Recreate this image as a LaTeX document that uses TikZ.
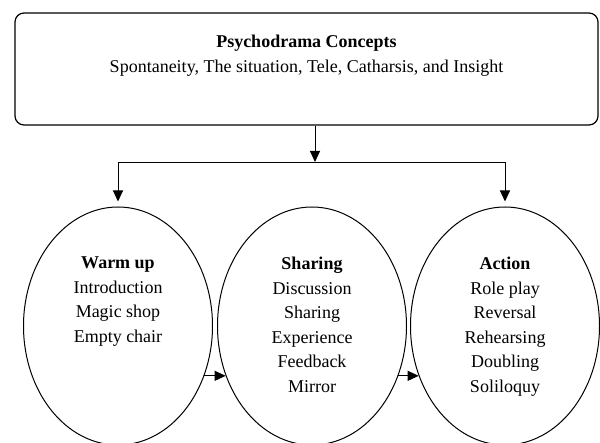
\documentclass[tikz,border=0pt]{standalone}
\usepackage{fontspec}
\setmainfont{Liberation Serif}
\usetikzlibrary{arrows.meta}
\usetikzlibrary{shapes.geometric}

\begin{document}
\begin{tikzpicture}[x=1pt, y=-1pt,
    phase/.style={draw=black, line width=1pt, ellipse, minimum width=189pt, minimum height=238pt, inner sep=0pt},
    words/.style={anchor=north, align=center, inner sep=0pt, font=\fontsize{18}{24.5}\selectfont},
    link/.style={draw=black, line width=1pt, -{Triangle[length=11pt, width=10pt]}}]
    \useasboundingbox (0,0) rectangle (600,443);

    % concepts box
    \node[draw=black, line width=1.2pt, rounded corners=9pt, minimum width=583pt, minimum height=112pt, inner sep=0pt]
    (concepts) at (306.5,69) {};
    \node[words] (conceptsText) at (306.5,35)
    {\textbf{Psychodrama Concepts}\\Spontaneity, The situation, Tele, Catharsis, and Insight};

    % three phases
    \node[phase] (warm) at (118,326) {};
    \node[phase] (sharing) at (312,326) {};
    \node[phase] (action) at (505,326) {};

    \node[words] (warmText) at (118,257)
    {\textbf{Warm up}\\Introduction\\Magic shop\\Empty chair};
    \node[words] (sharingText) at (312,257)
    {\textbf{Sharing}\\Discussion\\Sharing\\Experience\\Feedback\\Mirror};
    \node[words] (actionText) at (505,257)
    {\textbf{Action}\\Role play\\Reversal\\Rehearsing\\Doubling\\Soliloquy};

    % connectors
    \coordinate (split) at (315,163);
    \draw[link, shorten >=1pt] (concepts.south -| split) -- (split);
    \draw[link, shorten >=5pt] (split) -| (warm.north);
    \draw[link, shorten >=5pt] (split) -| (action.north);
    \draw[link] (warm.-30) -- (sharing.-150);
    \draw[link] (sharing.-30) -- (action.-150);
\end{tikzpicture}
\end{document}
